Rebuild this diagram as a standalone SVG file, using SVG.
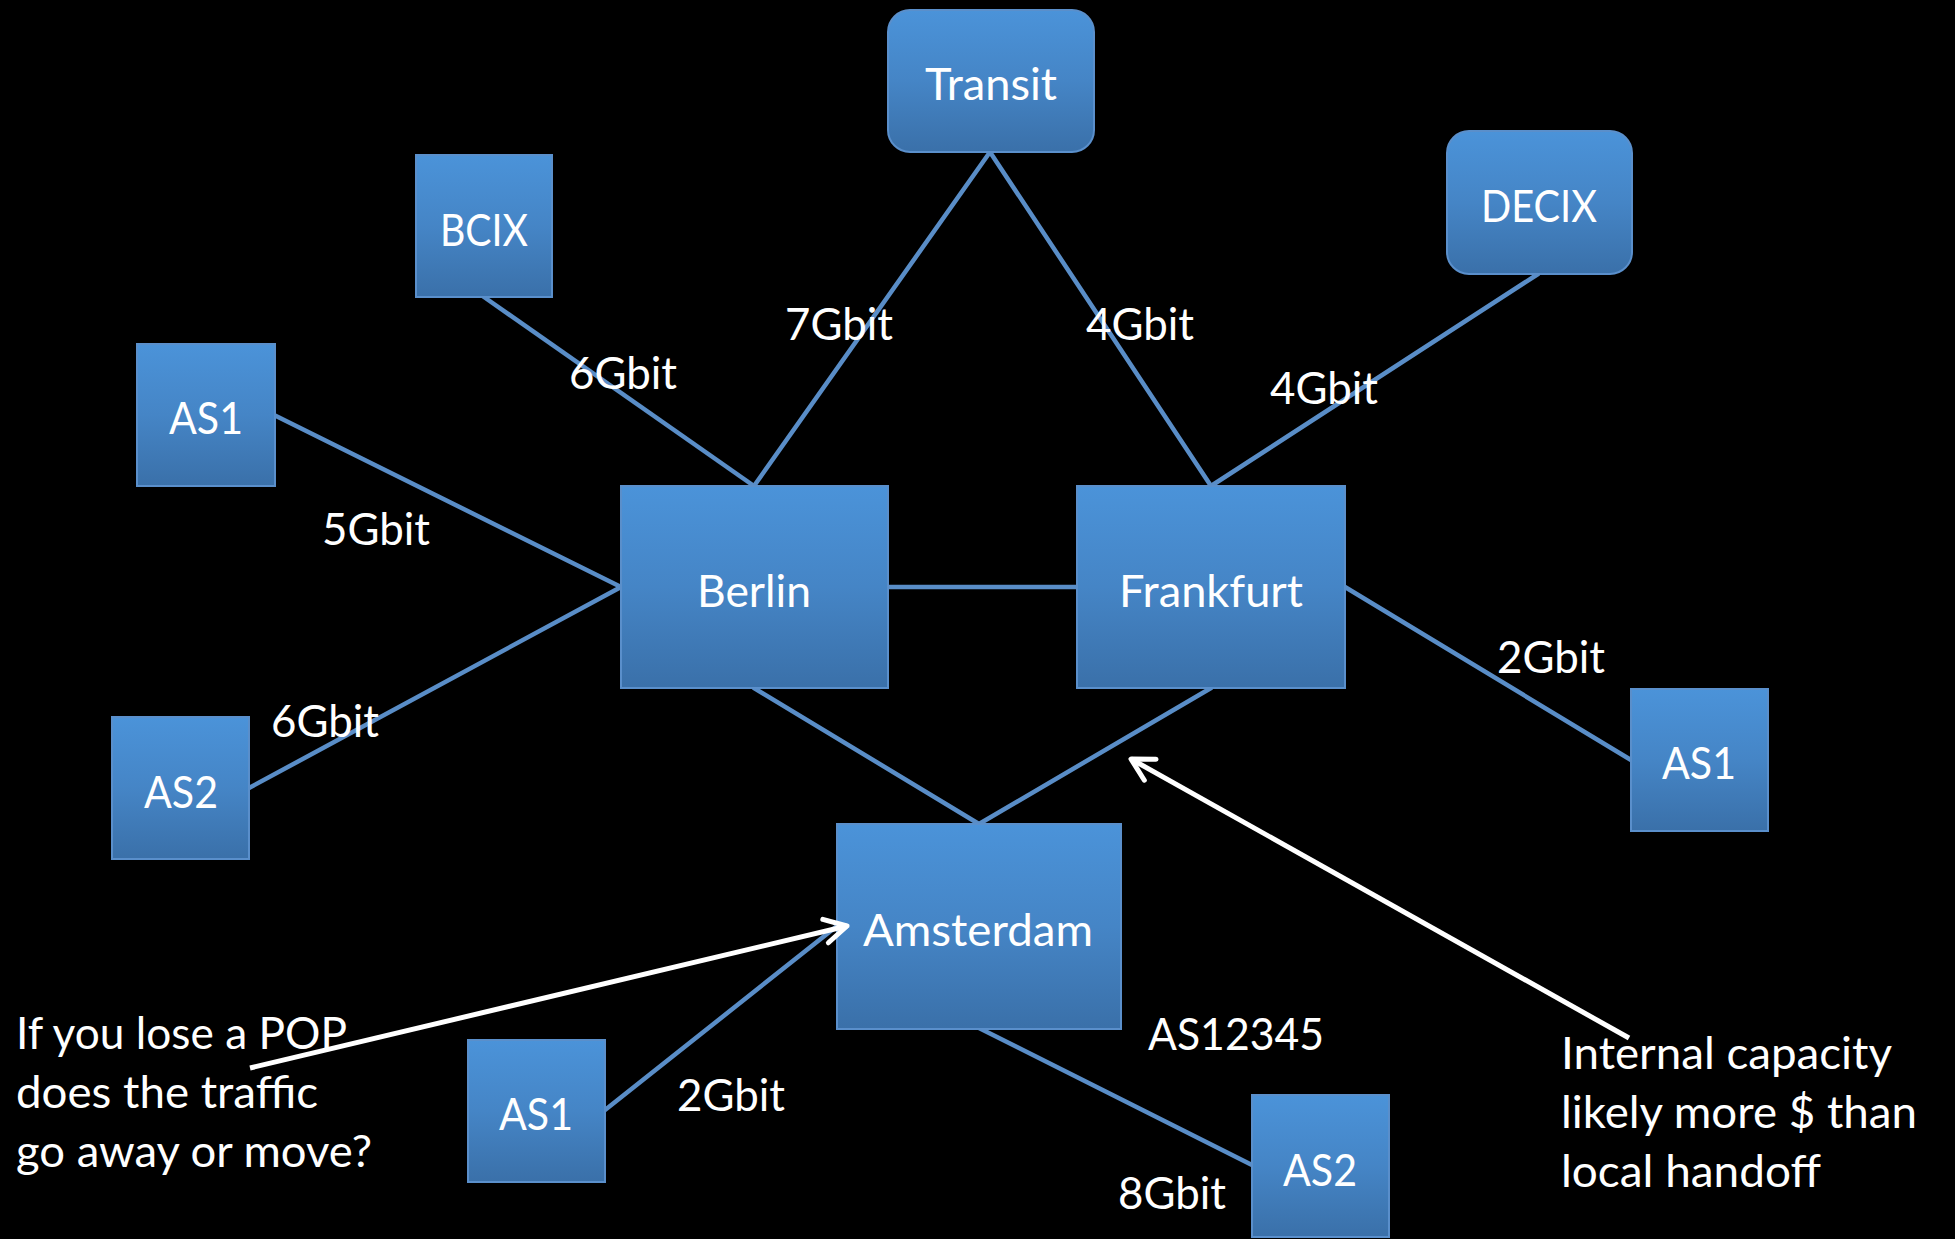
<svg xmlns="http://www.w3.org/2000/svg" width="1955" height="1239" viewBox="0 0 1955 1239">
  <defs>
    <linearGradient id="boxGrad" x1="0" y1="0" x2="0" y2="1">
      <stop offset="0" stop-color="#4B93D9"/>
      <stop offset="0.5" stop-color="#4585C6"/>
      <stop offset="1" stop-color="#3A70A9"/>
    </linearGradient>
    <marker id="openArrow" markerUnits="userSpaceOnUse" markerWidth="40" markerHeight="40" viewBox="0 0 40 40" refX="36" refY="20" orient="auto">
      <path d="M14,8 L36,20 L14,32" fill="none" stroke="#ffffff" stroke-width="5" stroke-linecap="round" stroke-linejoin="round"/>
    </marker>
    <style>
      .box { fill: url(#boxGrad); stroke: #5A8FCB; stroke-width: 2; }
      .link { stroke: #598DC7; stroke-width: 4.5; fill: none; stroke-linecap: round; }
      .note { stroke: #ffffff; stroke-width: 5; fill: none; }
      text { font-family: Lato, "Open Sans", "Liberation Sans", sans-serif; fill: #ffffff; font-size: 44px; }
      .c { text-anchor: middle; }
    </style>
  </defs>
  <rect x="0" y="0" width="1955" height="1239" fill="#000000"/>

  <g id="connectors">
    <line class="link" x1="990" y1="152" x2="754" y2="486"/>
    <line class="link" x1="990" y1="152" x2="1211" y2="486"/>
    <line class="link" x1="484" y1="297" x2="754" y2="486"/>
    <line class="link" x1="1538" y1="274" x2="1211" y2="486"/>
    <line class="link" x1="274" y1="415" x2="621" y2="587"/>
    <line class="link" x1="249" y1="788" x2="621" y2="587"/>
    <line class="link" x1="888" y1="587" x2="1077" y2="587"/>
    <line class="link" x1="1345" y1="587" x2="1631" y2="760"/>
    <line class="link" x1="754" y1="688" x2="979" y2="824"/>
    <line class="link" x1="1211" y1="688" x2="979" y2="824"/>
    <line class="link" x1="837" y1="926" x2="605" y2="1110"/>
    <line class="link" x1="979" y1="1028" x2="1252" y2="1165"/>
  </g>

  <g id="link-labels">
    <text x="569" y="389" textLength="108" lengthAdjust="spacingAndGlyphs">6Gbit</text>
    <text x="785" y="340" textLength="108" lengthAdjust="spacingAndGlyphs">7Gbit</text>
    <text x="1086" y="340" textLength="108" lengthAdjust="spacingAndGlyphs">4Gbit</text>
    <text x="1270" y="404" textLength="108" lengthAdjust="spacingAndGlyphs">4Gbit</text>
    <text x="322" y="545" textLength="108" lengthAdjust="spacingAndGlyphs">5Gbit</text>
    <text x="271" y="737" textLength="108" lengthAdjust="spacingAndGlyphs">6Gbit</text>
    <text x="1497" y="673" textLength="108" lengthAdjust="spacingAndGlyphs">2Gbit</text>
    <text x="677" y="1111" textLength="108" lengthAdjust="spacingAndGlyphs">2Gbit</text>
    <text x="1118" y="1209" textLength="108" lengthAdjust="spacingAndGlyphs">8Gbit</text>
    <text x="1148" y="1050" textLength="176" lengthAdjust="spacingAndGlyphs">AS12345</text>
  </g>

  <g id="node-transit">
    <rect class="box" x="888" y="10" width="206" height="142" rx="22" ry="22"/>
    <text class="c" x="991" y="100" textLength="132" lengthAdjust="spacingAndGlyphs">Transit</text>
  </g>
  <g id="node-bcix">
    <rect class="box" x="416" y="155" width="136" height="142"/>
    <text class="c" x="484" y="246" textLength="88" lengthAdjust="spacingAndGlyphs">BCIX</text>
  </g>
  <g id="node-decix">
    <rect class="box" x="1447" y="131" width="185" height="143" rx="22" ry="22"/>
    <text class="c" x="1539" y="222" textLength="116" lengthAdjust="spacingAndGlyphs">DECIX</text>
  </g>
  <g id="node-as1-left">
    <rect class="box" x="137" y="344" width="138" height="142"/>
    <text class="c" x="206" y="434" textLength="74" lengthAdjust="spacingAndGlyphs">AS1</text>
  </g>
  <g id="node-as2-left">
    <rect class="box" x="112" y="717" width="137" height="142"/>
    <text class="c" x="181" y="808" textLength="74" lengthAdjust="spacingAndGlyphs">AS2</text>
  </g>
  <g id="node-berlin">
    <rect class="box" x="621" y="486" width="267" height="202"/>
    <text class="c" x="754" y="607" textLength="114" lengthAdjust="spacingAndGlyphs">Berlin</text>
  </g>
  <g id="node-frankfurt">
    <rect class="box" x="1077" y="486" width="268" height="202"/>
    <text class="c" x="1211" y="607" textLength="184" lengthAdjust="spacingAndGlyphs">Frankfurt</text>
  </g>
  <g id="node-as1-right">
    <rect class="box" x="1631" y="689" width="137" height="142"/>
    <text class="c" x="1699" y="779" textLength="74" lengthAdjust="spacingAndGlyphs">AS1</text>
  </g>
  <g id="node-amsterdam">
    <rect class="box" x="837" y="824" width="284" height="205"/>
    <text class="c" x="978" y="946" textLength="230" lengthAdjust="spacingAndGlyphs">Amsterdam</text>
  </g>
  <g id="node-as1-bottom">
    <rect class="box" x="468" y="1040" width="137" height="142"/>
    <text class="c" x="536" y="1130" textLength="74" lengthAdjust="spacingAndGlyphs">AS1</text>
  </g>
  <g id="node-as2-bottom">
    <rect class="box" x="1252" y="1095" width="137" height="142"/>
    <text class="c" x="1320" y="1186" textLength="74" lengthAdjust="spacingAndGlyphs">AS2</text>
  </g>

  <g id="annotations">
    <line class="note" x1="250" y1="1068" x2="847" y2="926" marker-end="url(#openArrow)"/>
    <line class="note" x1="1629" y1="1038" x2="1131" y2="759" marker-end="url(#openArrow)"/>
    <text x="16" y="1049" textLength="331" lengthAdjust="spacingAndGlyphs">If you lose a POP</text>
    <text x="16" y="1108" textLength="302" lengthAdjust="spacingAndGlyphs">does the traffic</text>
    <text x="16" y="1167" textLength="356" lengthAdjust="spacingAndGlyphs">go away or move?</text>
    <text x="1561" y="1069" textLength="331" lengthAdjust="spacingAndGlyphs">Internal capacity</text>
    <text x="1561" y="1128" textLength="356" lengthAdjust="spacingAndGlyphs">likely more $ than</text>
    <text x="1561" y="1187" textLength="260" lengthAdjust="spacingAndGlyphs">local handoff</text>
  </g>
</svg>
